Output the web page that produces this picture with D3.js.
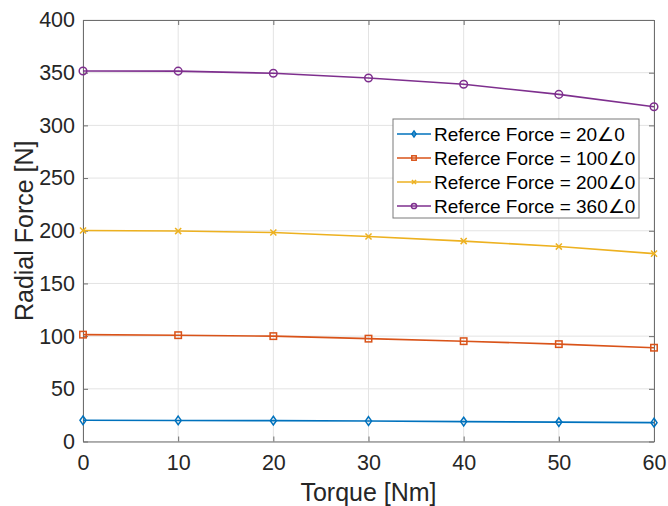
<!DOCTYPE html>
<html>
<head>
<meta charset="utf-8">
<script src="https://cdn.jsdelivr.net/npm/d3@7"></script>
<style>
body{margin:0;background:#fff;}
text{font-family:"Liberation Sans",Arial,sans-serif;}
</style>
</head>
<body>
<script>
// torque values along x
var torque=[0,10,20,30,40,50,60];
var force20=[20.1,20.0,19.8,19.4,18.9,18.4,17.9];
var force100=[101.4,100.9,100.0,97.6,95.2,92.4,89.0];
var force200=[200.2,199.7,198.3,194.5,190.2,185.0,178.3];
var force360=[351.6,351.5,349.4,345.0,339.0,329.4,317.7];
var seriesNames=["Referce Force = 20\u22200","Referce Force = 100\u22200","Referce Force = 200\u22200","Referce Force = 360\u22200"];
var xTicks=[0,10,20,30,40,50,60];
var yTicks=[0,50,100,150,200,250,300,350,400];

var width=668,height=506;
var pLeft=83,pRight=654,pTop=20,pBottom=441.5;

var svg=d3.select("body").append("svg")
  .attr("width",width)
  .attr("height",height);

var x=d3.scaleLinear().domain([0,60]).range([pLeft,pRight]);
var y=d3.scaleLinear().domain([0,400]).range([pBottom,pTop]);

// grid
svg.selectAll(".gx").data(xTicks).enter().append("line")
  .attr("x1",function(d){return x(d);}).attr("x2",function(d){return x(d);})
  .attr("y1",pTop).attr("y2",pBottom)
  .attr("stroke","#e3e3e3").attr("stroke-width",1);
svg.selectAll(".gy").data(yTicks).enter().append("line")
  .attr("y1",function(d){return y(d);}).attr("y2",function(d){return y(d);})
  .attr("x1",pLeft).attr("x2",pRight)
  .attr("stroke","#e3e3e3").attr("stroke-width",1);

// axes (ticks inward, on all four sides)
var axisColor="#6e6e6e";
function styleAxis(g){
  g.select(".domain").attr("stroke",axisColor);
  g.selectAll(".tick line").attr("stroke",axisColor);
  g.selectAll(".tick text").attr("fill","#262626").attr("font-size",21.5);
}
svg.append("g").attr("transform","translate(0,"+pBottom+")")
  .call(d3.axisBottom(x).tickValues(xTicks).tickSizeInner(-5).tickSizeOuter(0).tickPadding(13))
  .call(styleAxis);
svg.append("g").attr("transform","translate(0,"+pTop+")")
  .call(d3.axisTop(x).tickValues(xTicks).tickSizeInner(-5).tickSizeOuter(0).tickFormat(""))
  .call(styleAxis);
svg.append("g").attr("transform","translate("+pLeft+",0)")
  .call(d3.axisLeft(y).tickValues(yTicks).tickSizeInner(-5).tickSizeOuter(0).tickPadding(8))
  .call(styleAxis);
svg.append("g").attr("transform","translate("+pRight+",0)")
  .call(d3.axisRight(y).tickValues(yTicks).tickSizeInner(-5).tickSizeOuter(0).tickFormat(""))
  .call(styleAxis);

// axis titles
svg.append("text").text("Torque [Nm]")
  .attr("x",(pLeft+pRight)/2).attr("y",501)
  .attr("text-anchor","middle").attr("font-size",25).attr("fill","#262626");
svg.append("text").text("Radial Force [N]")
  .attr("transform","translate(33,"+((pTop+pBottom)/2)+") rotate(-90)")
  .attr("text-anchor","middle").attr("font-size",25).attr("fill","#262626");

var series=[
  {name:seriesNames[0],vals:force20,color:"#0072BD",marker:"diamond"},
  {name:seriesNames[1],vals:force100,color:"#D95319",marker:"square"},
  {name:seriesNames[2],vals:force200,color:"#EDB120",marker:"x"},
  {name:seriesNames[3],vals:force360,color:"#7E2F8E",marker:"circle"}
];

function drawMarker(g,type,color,cx,cy,s){
  if(type=="circle"){
    g.append("circle").attr("cx",cx).attr("cy",cy).attr("r",s)
      .attr("fill","none").attr("stroke",color).attr("stroke-width",1.5);
  } else if(type=="square"){
    g.append("rect").attr("x",cx-s*0.85).attr("y",cy-s*0.85).attr("width",s*1.7).attr("height",s*1.7)
      .attr("fill","none").attr("stroke",color).attr("stroke-width",1.5);
  } else if(type=="diamond"){
    g.append("path").attr("d","M"+cx+","+(cy-s*1.15)+"L"+(cx+s*0.8)+","+cy+"L"+cx+","+(cy+s*1.15)+"L"+(cx-s*0.8)+","+cy+"Z")
      .attr("fill","none").attr("stroke",color).attr("stroke-width",1.5);
  } else {
    g.append("path").attr("d","M"+(cx-s*0.8)+","+(cy-s*0.8)+"L"+(cx+s*0.8)+","+(cy+s*0.8)+"M"+(cx-s*0.8)+","+(cy+s*0.8)+"L"+(cx+s*0.8)+","+(cy-s*0.8))
      .attr("stroke",color).attr("stroke-width",1.5);
  }
}

var line=d3.line().x(function(d,i){return x(torque[i]);}).y(function(d){return y(d);});

series.forEach(function(s){
  svg.append("path").datum(s.vals)
    .attr("d",line)
    .attr("fill","none").attr("stroke",s.color).attr("stroke-width",1.6);
  var g=svg.append("g");
  s.vals.forEach(function(v,i){
    drawMarker(g,s.marker,s.color,x(torque[i]),y(v),3.8);
  });
});

// legend
var lx=393,ly=119,lw=246,lh=99;
var legend=svg.append("g");
legend.append("rect").attr("x",lx).attr("y",ly).attr("width",lw).attr("height",lh)
  .attr("fill","#fff").attr("stroke","#7a7a7a").attr("stroke-width",1);
series.forEach(function(s,i){
  var yy=ly+15+i*24;
  legend.append("line").attr("x1",lx+4).attr("x2",lx+38).attr("y1",yy).attr("y2",yy)
    .attr("stroke",s.color).attr("stroke-width",1.6);
  drawMarker(legend,s.marker,s.color,lx+21,yy,2.6);
  legend.append("text").text(s.name)
    .attr("x",lx+41).attr("y",yy+7)
    .attr("font-size",19).attr("fill","#000");
});
</script>
</body>
</html>
